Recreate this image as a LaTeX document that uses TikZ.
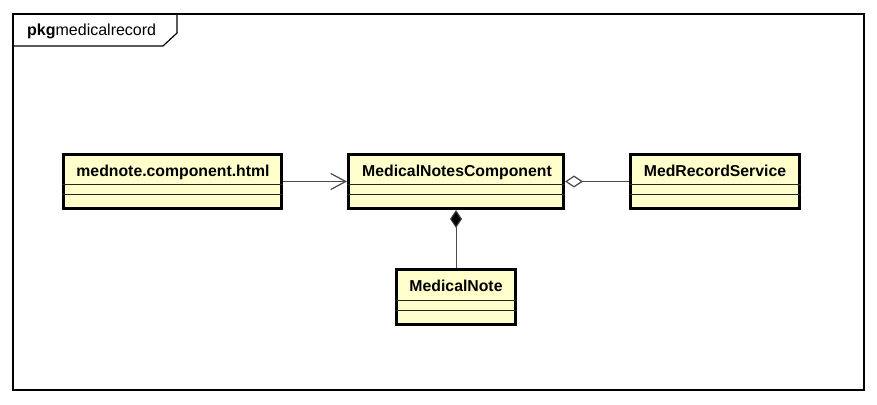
\documentclass[tikz,border=0pt]{standalone}
\usepackage{fontspec}
\setmainfont{Liberation Sans}
\usetikzlibrary{arrows.meta}
\definecolor{clsfill}{HTML}{FFFFCC}
\definecolor{conn}{HTML}{4A4A4A}
\tikzset{
  clsbox/.style={draw=black, line width=3pt, fill=clsfill, inner sep=0pt},
  clsname/.style={font=\fontsize{15.8}{18}\selectfont\bfseries, inner sep=0pt, anchor=base},
  sep/.style={draw=black!85, line width=1pt},
  conline/.style={draw=conn, line width=1pt},
  navig/.style={conline, -{Straight Barb[length=15pt, width=16pt, line width=1.2pt]}},
  aggr/.style={conline, {Diamond[open, length=18pt, width=12pt, line width=1.2pt]}-},
  compo/.style={conline, {Diamond[length=18pt, width=12pt, fill=black]}-},
  frame/.style={draw=black, line width=1.2pt}
}
\begin{document}
\begin{tikzpicture}[x=1pt, y=-1pt]
\useasboundingbox (0,0) rectangle (877,404);
% package frame
\draw[frame] (13,14) rectangle (864,390);
\draw[frame] (13,46) -- (163,46) -- (177,33) -- (177,14);
\node[anchor=base west, inner sep=0pt, font=\fontsize{16}{18}\selectfont] (pkglabel) at (27,36) {\textbf{pkg}medicalrecord};
% classes
\node[clsbox, minimum width=218pt, minimum height=54pt] (mh) at (172.5,181.5) {};
\node[clsname] (mhn) at (173,176) {mednote.component.html};
\draw[sep] (mh.west |- 0,184.5) -- (mh.east |- 0,184.5);
\draw[sep] (mh.west |- 0,194.5) -- (mh.east |- 0,194.5);

\node[clsbox, minimum width=215pt, minimum height=54pt] (mnc) at (456,181.5) {};
\node[clsname] (mncn) at (457,176) {MedicalNotesComponent};
\draw[sep] (mnc.west |- 0,184.5) -- (mnc.east |- 0,184.5);
\draw[sep] (mnc.west |- 0,194.5) -- (mnc.east |- 0,194.5);

\node[clsbox, minimum width=169pt, minimum height=54pt] (mrs) at (715,181.5) {};
\node[clsname] (mrsn) at (715,176) {MedRecordService};
\draw[sep] (mrs.west |- 0,184.5) -- (mrs.east |- 0,184.5);
\draw[sep] (mrs.west |- 0,194.5) -- (mrs.east |- 0,194.5);

\node[clsbox, minimum width=119pt, minimum height=55pt] (mn) at (456,297) {};
\node[clsname] (mnn) at (456,291.5) {MedicalNote};
\draw[sep] (mn.west |- 0,300) -- (mn.east |- 0,300);
\draw[sep] (mn.west |- 0,310.5) -- (mn.east |- 0,310.5);
% connectors
\draw[navig] (mh.east) -- (mnc.west);
\draw[aggr] (mnc.east) -- (mrs.west);
\draw[compo] (mnc.south) -- (mn.north);
\end{tikzpicture}
\end{document}
